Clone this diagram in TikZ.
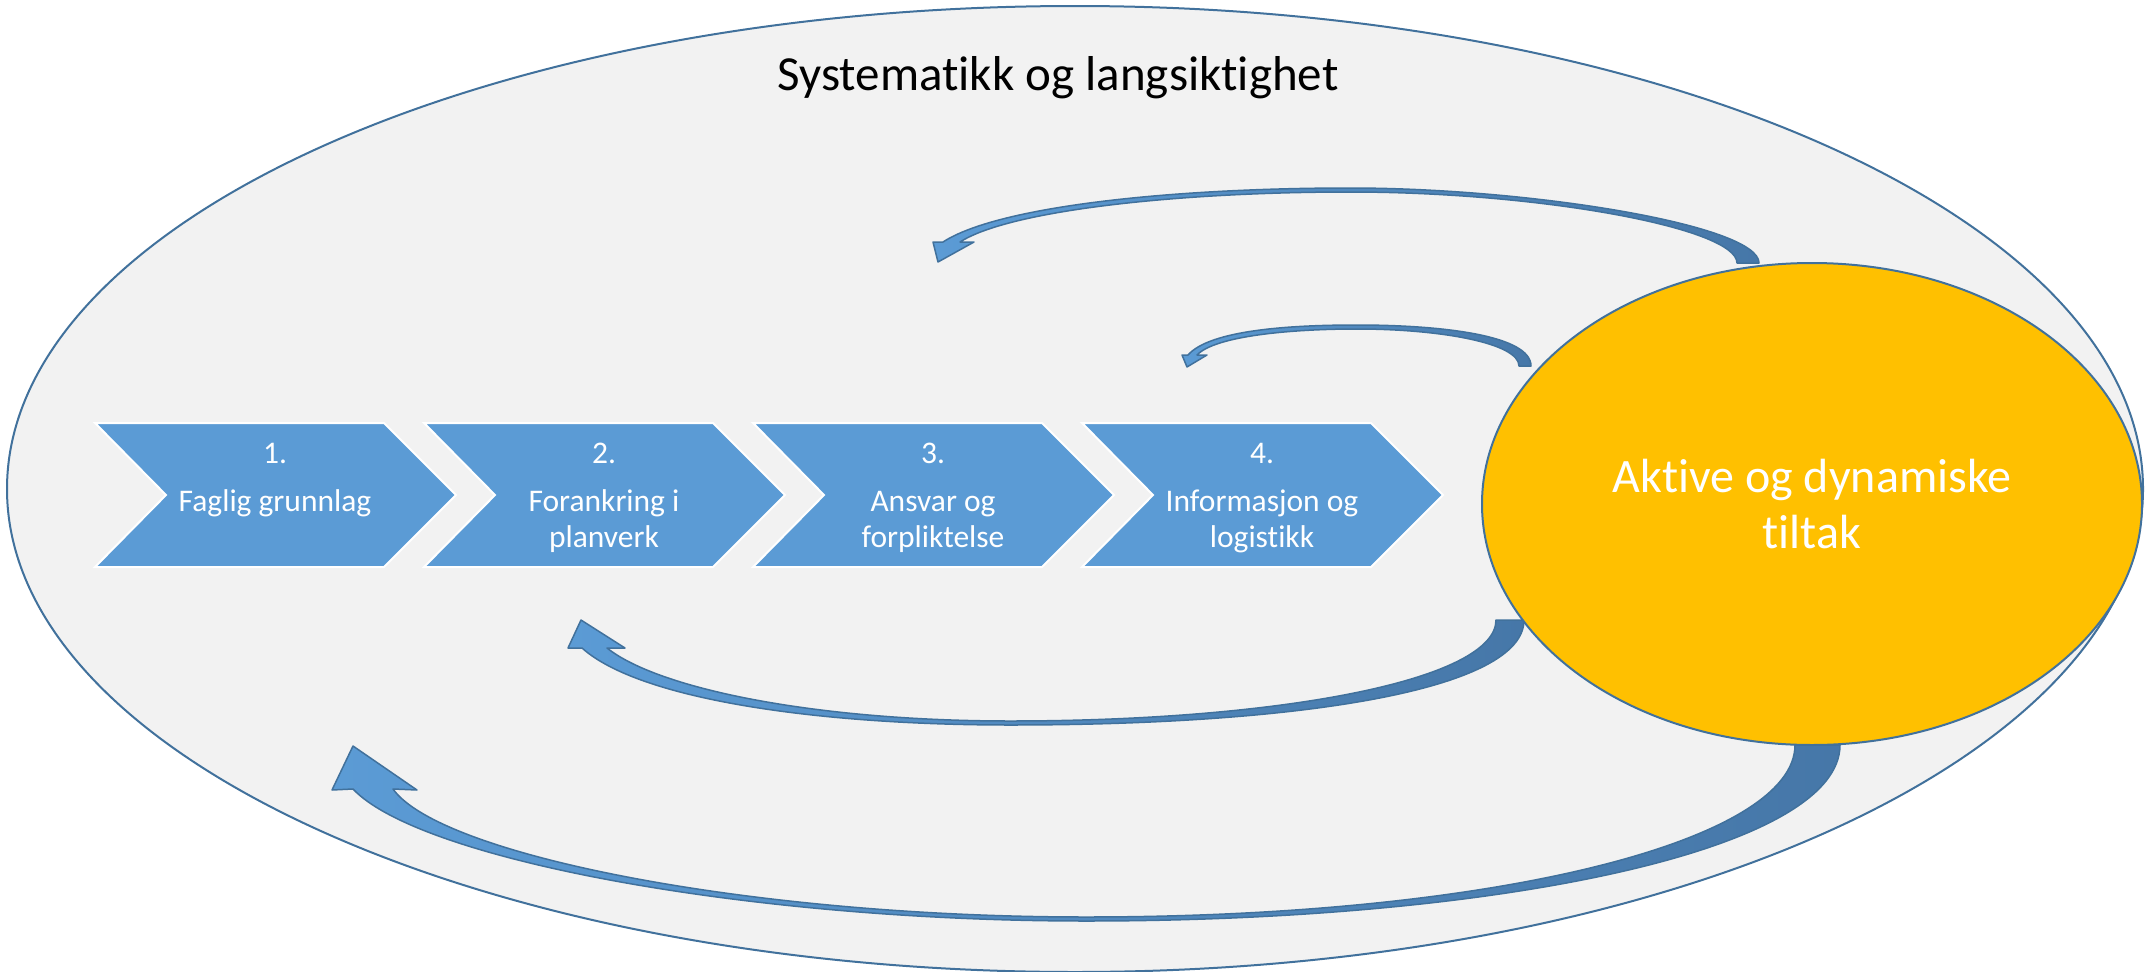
\documentclass[tikz,border=0pt]{standalone}
\usepackage{fontspec}
\setmainfont{Carlito}[Ligatures=NoCommon]
\usetikzlibrary{shapes.geometric}
\definecolor{blakant}{HTML}{41719C}
\definecolor{bakgrunn}{HTML}{F2F2F2}
\definecolor{chevblaa}{HTML}{5B9BD5}
\definecolor{pillys}{HTML}{5B9BD5}
\definecolor{pilmork}{HTML}{4677A8}
\definecolor{gul}{HTML}{FFC000}
\begin{document}
\begin{tikzpicture}[x=1pt,y=-1pt,
  kant/.style={draw=blakant,line width=2pt},
  chevron/.style={fill=chevblaa,draw=white,line width=2pt},
  chevtekst/.style={text=white,font=\fontsize{31.5}{36}\selectfont,align=center,inner sep=0pt},
  pil/.style={draw=blakant,line width=1.5pt,line join=round,left color=pillys,right color=pilmork}]
\useasboundingbox (0,0) rectangle (2156,972);
\node[kant,ellipse,fill=bakgrunn,minimum width=2136,minimum height=966,inner sep=0pt] (ramme) at (1075,489) {};
\node[font=\fontsize{49}{58}\selectfont,anchor=base] (tittel) at (1058,90) {Systematikk og langsiktighet};
% piler tilbake fra tiltakene
\draw[pil] (938,262) -- (933,242) -- (943,242) .. controls (1000,205) and (1180,188) .. (1350,188) .. controls (1530,188) and (1759,225) .. (1759,263) -- (1737,263) .. controls (1737,228) and (1540,192) .. (1350,192) .. controls (1180,192) and (1010,210) .. (960,242) -- (974,242) -- cycle;
\draw[pil] (1187,367) -- (1182,355) -- (1188,355) .. controls (1210,330) and (1290,325) .. (1357,325) .. controls (1440,325) and (1531,335) .. (1531,366) -- (1519,366) .. controls (1519,343) and (1440,329) .. (1357,329) .. controls (1290,329) and (1215,336) .. (1197,355) -- (1207,355) -- cycle;
\draw[pil] (581,620) -- (568,648) -- (582,648) .. controls (640,700) and (820,725) .. (1010,725) .. controls (1300,725) and (1524,690) .. (1524,620) -- (1496,620) .. controls (1496,680) and (1280,721) .. (1010,721) .. controls (820,721) and (660,690) .. (607,648) -- (625,648) -- cycle;
\draw[pil] (353,746) -- (332,790) -- (353,789) .. controls (420,860) and (750,921) .. (1086,921) .. controls (1500,921) and (1840,850) .. (1840,745) -- (1795,745) .. controls (1795,840) and (1500,917) .. (1086,917) .. controls (750,917) and (440,855) .. (393,789) -- (417,790) -- cycle;
% trinnene
\foreach \n/\tekst in {1/{Faglig grunnlag},2/{Forankring i\\planverk},3/{Ansvar og\\forpliktelse},4/{Informasjon og\\logistikk}} {
  \draw[chevron] ({95+329*(\n-1)},423) -- ++(289,0) -- ++(72,72) -- ++(-72,72) -- ++(-289,0) -- ++(71,-72) -- cycle;
  \node[chevtekst,anchor=north] (steg\n) at ({275+329*(\n-1)},443) {\n.\\[12pt]\tekst};
}
\node[kant,ellipse,fill=gul,text=white,minimum width=660,minimum height=482,inner sep=0pt,align=center,font=\fontsize{48}{56}\selectfont] (tiltak) at (1812,504) {Aktive og dynamiske\\tiltak};
\end{tikzpicture}
\end{document}
